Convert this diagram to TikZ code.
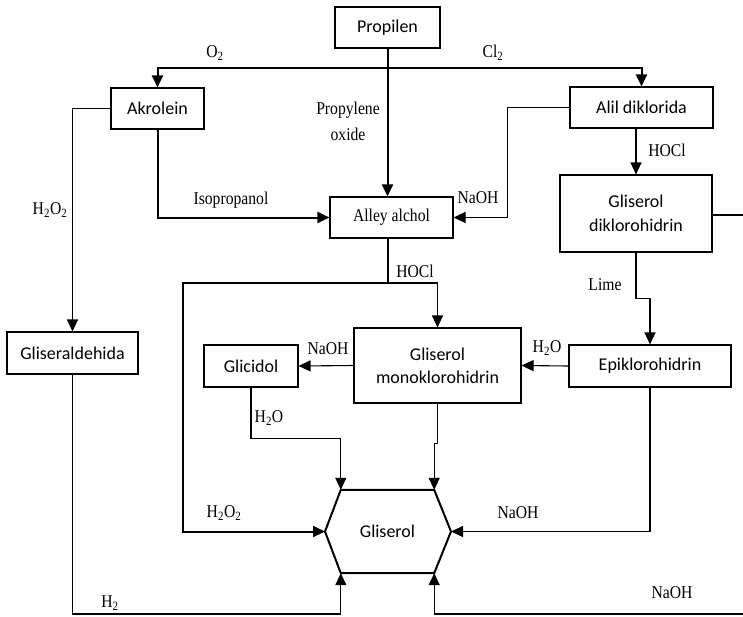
\documentclass[tikz,border=0pt]{standalone}
\usepackage{fontspec}
\setmainfont{Carlito}
\newfontfamily\labfont[FakeStretch=0.87]{Liberation Serif}
\usetikzlibrary{arrows.meta,calc}
\begin{document}
\begin{tikzpicture}[x=1pt,y=-1pt,
 box/.style={draw, line width=1.1pt, rectangle, inner sep=0pt, align=center, font=\fontsize{18}{23}\selectfont},
 lab/.style={inner sep=0pt, font=\labfont\fontsize{18}{26}\selectfont, align=center},
 conn/.style={line width=1.1pt},
 thk/.style={line width=2pt},
 arr/.style={-{Triangle[length=12pt,width=11pt]}}]
\useasboundingbox (0,0) rectangle (743,616);
% boxes
\node[box, minimum width=105pt, minimum height=41pt] (prop) at (387.5,27.5) {Propilen};
\node[box, minimum width=93pt, minimum height=41pt] (ak) at (157.5,108.5) {Akrolein};
\node[box, minimum width=143pt, minimum height=41pt] (al) at (641.5,107.5) {Alil diklorida};
\node[box, minimum width=123pt, minimum height=41pt, font=\labfont\fontsize{18}{22}\selectfont] (alley) at (391.5,217.5) {Alley alchol};
\node[box, minimum width=152pt, minimum height=77pt, font=\fontsize{18}{24}\selectfont] (dk) at (636,213.5) {Gliserol\\diklorohidrin};
\node[box, minimum width=131pt, minimum height=42pt] (gd) at (72.5,353) {Gliseraldehida};
\node[box, minimum width=94pt, minimum height=42pt] (gc) at (251,366) {Glicidol};
\node[box, minimum width=167pt, minimum height=75pt] (mono) at (437.5,365.5) {Gliserol\\monoklorohidrin};
\node[box, minimum width=162pt, minimum height=42pt] (epi) at (650,366) {Epiklorohidrin};
\node[minimum width=93pt, minimum height=83pt, inner sep=0pt, font=\fontsize{18}{23}\selectfont] (gl) at (387.5,531.5) {Gliserol};
\coordinate (gll) at (325,531.5);
\coordinate (glr) at (451,531.5);
\draw[thk] (gl.north west) -- (gl.north east) -- (glr) -- (gl.south east) -- (gl.south west) -- (gll) -- cycle;
% connectors
\coordinate (top) at (prop.south |- 0,68);
\draw[thk,arr] (prop.south) -- (prop.south |- alley.north);
\draw[thk,arr] (top) -| (ak.north);
\draw[thk,arr] (top) -| (al.north);
\draw[conn,arr] (ak.west) -| (gd.north);
\draw[thk,arr] (ak.south) |- (alley.west);
\draw[conn,arr] (al.west) -- ++(-62,0) |- (alley.east);
\draw[conn,arr] (al.south -| dk.north) -- (dk.north);
\coordinate (edge) at (743,215);
\draw[conn] (dk.east |- edge) -- (edge);
\draw[conn,arr] (dk.south) -- ++(0,46) -| (epi.north);
\draw[conn,arr] (epi.west) -- (mono.east);
\coordinate (j) at (388,283);
\coordinate (jl) at (183,283);
\draw[thk,arr] (alley.south -| j) -- (j) -- (jl) |- (gll);
\draw[conn,arr] (j) -| (mono.north);
\draw[conn,arr] (mono.west) -- (gc.east);
\draw[conn,arr] (gc.south) -- ++(0,51) -| (gl.north west);
\draw[conn,arr] (mono.south) -- ++(0,40) -| (gl.north east);
\draw[conn,arr] (epi.south) |- (glr);
\coordinate (bl) at (0,614);
\coordinate (br) at (743,614);
\draw[conn,arr] (gd.south) -- (gd.south |- bl) -| (gl.south west);
\draw[conn,arr] (br) -| (gl.south east);
% labels
\node[lab] (lo2) at (215,53) {O\textsubscript{2}};
\node[lab] (lcl2) at (493,53) {Cl\textsubscript{2}};
\node[lab] (lpo) at (348,121) {Propylene\\oxide};
\node[lab] (liso) at (231,200) {Isopropanol};
\node[lab] (lnaoh1) at (478,198) {NaOH};
\node[lab] (lhocl1) at (667,150) {HOCl};
\node[lab] (lh2o2a) at (50,210) {H\textsubscript{2}O\textsubscript{2}};
\node[lab] (llime) at (605,285) {Lime};
\node[lab] (lhocl2) at (415,271) {HOCl};
\node[lab] (lnaoh2) at (328,349) {NaOH};
\node[lab] (lh2oa) at (547,348) {H\textsubscript{2}O};
\node[lab] (lh2ob) at (269,418) {H\textsubscript{2}O};
\node[lab] (lh2o2b) at (224,513) {H\textsubscript{2}O\textsubscript{2}};
\node[lab] (lnaoh3) at (518,513) {NaOH};
\node[lab] (lh2) at (110,603) {H\textsubscript{2}};
\node[lab] (lnaoh4) at (672,593) {NaOH};
\end{tikzpicture}
\end{document}
